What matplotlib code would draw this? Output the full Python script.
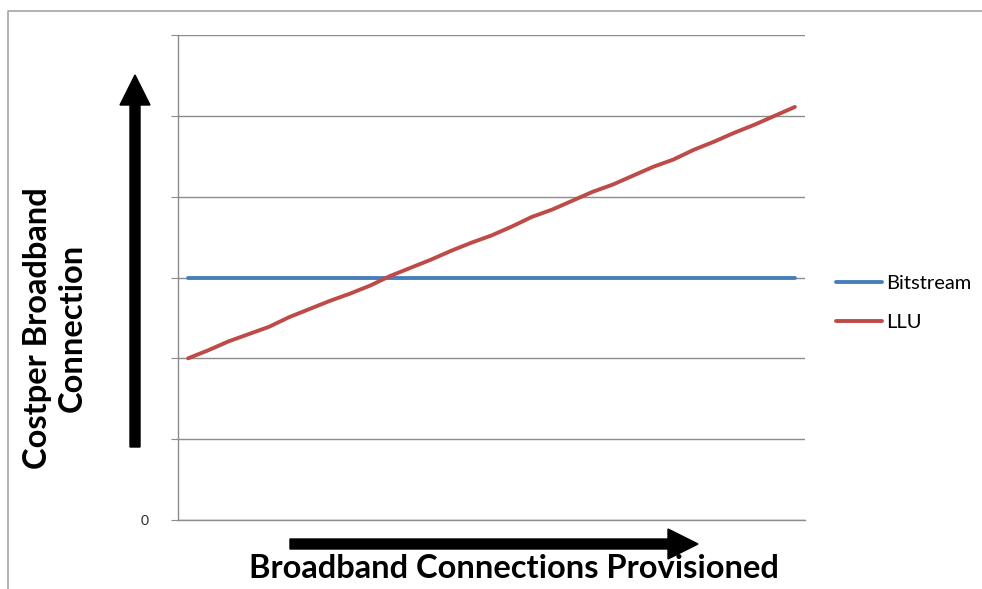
import matplotlib
matplotlib.use("Agg")
import matplotlib.pyplot as plt
from matplotlib.patches import FancyArrow
from matplotlib.lines import Line2D
import numpy as np

categories = list(range(1, 32))
bitstream = [3.0] * 31
llu = [2.00, 2.10, 2.21, 2.30, 2.39, 2.51, 2.61, 2.71, 2.80, 2.90, 3.02,
       3.12, 3.22, 3.33, 3.43, 3.52, 3.63, 3.75, 3.84, 3.95, 4.06, 4.15,
       4.26, 4.37, 4.46, 4.58, 4.68, 4.79, 4.89, 5.00, 5.11]
series_names = ["Bitstream", "LLU"]
ytick_values = [0, 1, 2, 3, 4, 5, 6]
ytick_labels = ["0", "", "", "", "", "", ""]

W, H = 982, 589
fig = plt.figure(figsize=(W / 100, H / 100), dpi=100)
fig.patch.set_facecolor("white")

def fx(px):
    return px / W

def fy(py):
    return 1 - py / H

# outer chart border (top and left visible)
fig.add_artist(Line2D([fx(8), fx(8), 1.0], [0.0, fy(11), fy(11)],
                      transform=fig.transFigure, color="#a6a6a6", linewidth=1.2))

ax = fig.add_axes([fx(178), fy(520), fx(805) - fx(178), fy(35) - fy(520)])
x = np.arange(len(categories))
ax.plot(x, bitstream, color="#4a7ebb", linewidth=2.8, label=series_names[0],
        solid_capstyle="round")
ax.plot(x, llu, color="#be4b48", linewidth=2.8, label=series_names[1],
        solid_capstyle="round")
ax.set_xlim(-0.5, len(categories) - 0.5)
ax.set_ylim(0, 6)
ax.set_yticks(ytick_values)
ax.set_yticklabels(ytick_labels, fontsize=10, color="#222222", family="Lato")
ax.set_xticks([])
ax.grid(axis="y", color="#8c8c8c", linewidth=1.0)
ax.set_axisbelow(True)
for s in ["top", "right"]:
    ax.spines[s].set_visible(False)
ax.spines["left"].set_color("#8c8c8c")
ax.spines["bottom"].set_color("#8c8c8c")
ax.spines["left"].set_linewidth(1.0)
ax.spines["bottom"].set_linewidth(1.0)
ax.tick_params(axis="y", direction="out", length=5, color="#8c8c8c", pad=16)

leg = fig.legend(loc="center left", bbox_to_anchor=(fx(818), fy(303)),
                 frameon=False, handlelength=2.3, handletextpad=0.2,
                 labelspacing=1.05, prop={"family": "Lato", "size": 14.5})

# arrows in inch coordinates (1 px = 0.01 in)
tr = fig.dpi_scale_trans
def ix(px):
    return px / 100

def iy(py):
    return (H - py) / 100

fig.add_artist(FancyArrow(ix(135), iy(447), 0, iy(75) - iy(447),
                          width=0.10, head_width=0.30, head_length=0.30,
                          length_includes_head=True, transform=tr, color="black"))
fig.add_artist(FancyArrow(ix(290), iy(544), ix(698) - ix(290), 0,
                          width=0.10, head_width=0.30, head_length=0.30,
                          length_includes_head=True, transform=tr, color="black"))

fig.text(fx(514), fy(568), "Broadband Connections Provisioned", ha="center",
         va="center", fontsize=23.5, fontweight="bold", family="Lato", color="black")
fig.text(fx(55), fy(328), "Costper Broadband\nConnection", ha="center",
         va="center", rotation=90, fontsize=23.5, fontweight="bold", family="Lato",
         color="black", linespacing=1.25)

fig.savefig("out.png", dpi=100)
